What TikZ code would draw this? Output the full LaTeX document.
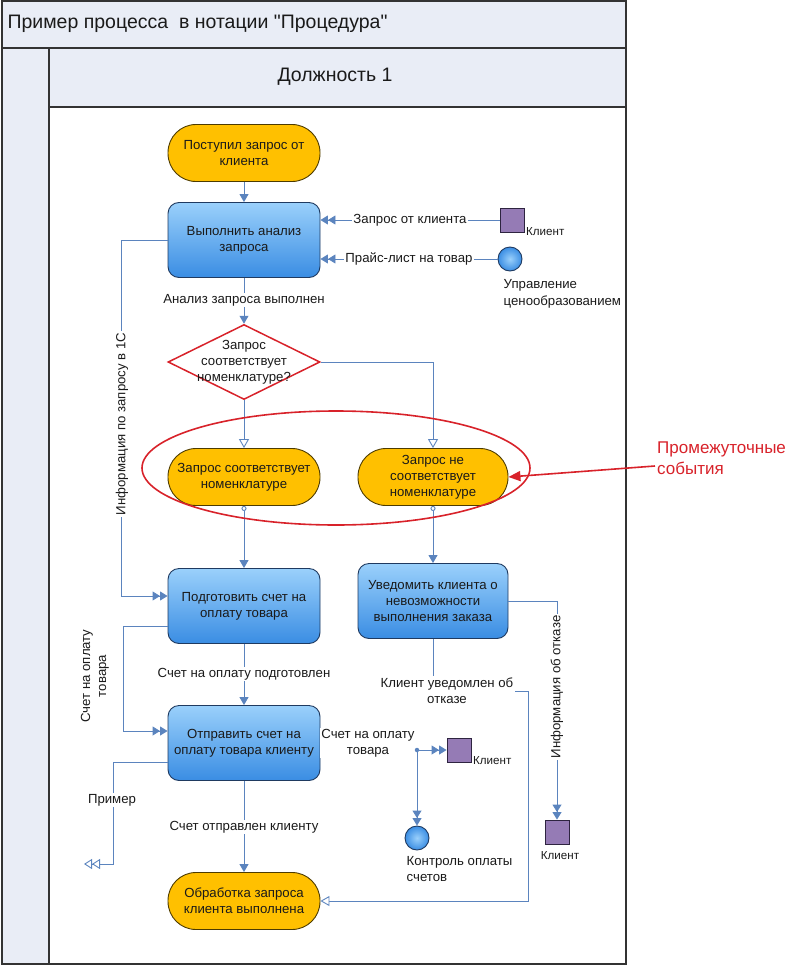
\documentclass[tikz,border=0pt]{standalone}
\usepackage{fontspec}
\setmainfont{Liberation Sans}[Ligatures=TeXOff]
\usetikzlibrary{arrows.meta,shapes.geometric,calc}
\definecolor{lnc}{HTML}{5B84BE}
\definecolor{bandc}{HTML}{E9EDF6}
\definecolor{framec}{HTML}{333333}
\definecolor{boxb}{HTML}{1F3A60}
\definecolor{boxt}{HTML}{9AD0FB}
\definecolor{boxbot}{HTML}{3A8DE3}
\definecolor{evf}{HTML}{FFC000}
\definecolor{evb}{HTML}{4D3B00}
\definecolor{redc}{HTML}{D8222A}
\definecolor{sqf}{HTML}{957BB5}
\definecolor{sqb}{HTML}{2E2440}
\definecolor{txt}{HTML}{1A1A1A}
\begin{document}
\begin{tikzpicture}[x=1pt,y=-1pt,
  lnk/.style={draw=lnc, line width=0.9pt},
  tipf/.style={-{Triangle[length=8pt,width=9pt]}},
  tipff/.style={-{Triangle[length=7.5pt,width=9pt]Triangle[length=7.5pt,width=9pt]}},
  tipo/.style={-{Triangle[open,length=9pt,width=10pt,fill=white]}},
  tipoo/.style={-{Triangle[open,length=8pt,width=10pt,fill=white]Triangle[open,length=8pt,width=10pt,fill=white]}},
  startcirc/.style={{Circle[open,length=5pt,fill=white]}-{Triangle[length=8pt,width=9pt]}},
  lbl/.style={font=\fontsize{13.2}{16}\selectfont, text=txt, align=center, inner sep=1.5pt},
  small/.style={font=\fontsize{11.6}{13}\selectfont, text=txt, inner sep=1pt},
  procbox/.style={draw=boxb, line width=0.9pt, rounded corners=11pt, top color=boxt, bottom color=boxbot,
    minimum width=152pt, minimum height=75pt, align=center, font=\fontsize{13.2}{16}\selectfont, text=txt},
  evbox/.style={draw=evb, line width=0.9pt, rounded corners=28pt, fill=evf,
    minimum width=152pt, minimum height=57pt, align=center, font=\fontsize{13.2}{16}\selectfont, text=txt},
  decbox/.style={diamond, draw=redc, line width=1.5pt, fill=white, inner sep=0pt,
    minimum width=152pt, minimum height=75pt},
  sqr/.style={draw=sqb, line width=0.9pt, fill=sqf, minimum size=24pt, inner sep=0pt},
  circ/.style={circle, draw=boxb, line width=0.9pt, inner color=boxt, outer color=boxbot, minimum size=24pt, inner sep=0pt},
  dotn/.style={circle, fill=lnc, minimum size=4.5pt, inner sep=0pt}
]
\useasboundingbox (0,0) rectangle (796,966);
% swimlane frame
\fill[bandc] (2,1) rectangle (626,107);
\fill[bandc] (2,48) rectangle (49,964);
\draw[framec, line width=1.2pt] (2,1) rectangle (626,964);
\draw[framec, line width=1.2pt] (2,48) -- (626,48) (49,48) -- (49,964) (49,107) -- (626,107);
\node[anchor=west, font=\fontsize{19.5}{22}\selectfont, text=txt] (title) at (4,24) {Пример процесса \ в нотации "Процедура"};
\node[font=\fontsize{19.5}{22}\selectfont, text=txt] (lane) at (335,77) {Должность 1};

% main nodes
\node[evbox] (S) at (244,153) {Поступил запрос от\\клиента};
\node[procbox] (P1) at (244,240) {Выполнить анализ\\запроса};
\node[decbox] (D) at (244,362) {};
\node[lbl] (Dt) at (244,362) {Запрос\\соответствует\\номенклатуре?};
\node[evbox] (E1) at (244,477) {Запрос соответствует\\номенклатуре};
\node[evbox, minimum width=150pt] (E2) at (433,477) {Запрос не\\соответствует\\номенклатуре};
\node[procbox] (P3) at (244,606) {Подготовить счет на\\оплату товара};
\node[procbox, minimum width=150pt] (P4) at (433,601) {Уведомить клиента о\\невозможности\\выполнения заказа};
\node[procbox] (P5) at (244,743) {Отправить счет на\\оплату товара клиенту};
\node[evbox] (E3) at (244,901) {Обработка запроса\\клиента выполнена};

% external objects
\node[sqr] (C1) at (512,220) {};
\node[small, anchor=west] (C1l) at (525,232) {Клиент};
\node[circ] (M1) at (510,259) {};
\node[lbl, anchor=north west, align=left, font=\fontsize{13.2}{17}\selectfont] (M1l) at (502,278) {Управление\\ценообразованием};

% connectors top
\draw[lnk, tipf] (S) -- (P1);
\draw[lnk, tipff] (C1) -- node[lbl, fill=white]{Запрос от клиента} (P1.east |- C1);
\draw[lnk, tipff] (M1) -- node[lbl, fill=white]{Прайс-лист на товар} (P1.east |- M1);
\draw[lnk, tipf] (P1) -- (D.north);
\node[lbl, fill=white] (L1) at (244,300) {Анализ запроса выполнен};
\draw[lnk, tipo] (D.south) -- (E1.north);
\draw[lnk, tipo] (D.east) -| (E2.north);
\draw[lnk, startcirc] (E1.south) -- (P3.north);
\draw[lnk, startcirc] (E2.south) -- (P4.north);

% left loops
\draw[lnk, tipff] (P1.west) -- ++(-46,0) |- ($(P3.west)+(0,-10)$);
\node[lbl, fill=white, rotate=90] (L2) at (122,424) {Информация по запросу в 1С};
\draw[lnk, tipff] ($(P3.west)+(0,20)$) -- (123,626) |- ($(P5.west)+(0,-12)$);
\node[lbl, rotate=90] (L3) at (95,676) {Счет на оплату\\товара};
\draw[lnk, tipf] (P3) -- (P5);
\node[lbl, fill=white] (L4) at (244,674) {Счет на оплату подготовлен};
\draw[lnk, tipf] (P5) -- (E3);
\node[lbl, fill=white] (L5) at (244,827) {Счет отправлен клиенту};
\coordinate (ex) at (84,864);
\draw[lnk, tipoo] ($(P5.west)+(0,19)$) -- (113,762) |- (ex);
\node[lbl, fill=white] (L6) at (112,800) {Пример};

% invoice to client / control
\coordinate (dtc) at (417,750);
\draw[lnk] (P5.east) -- (dtc);
\node[lbl, fill=white] (L7) at (368,743) {Счет на оплату\\товара};
\node[dotn] (dt) at (dtc) {};
\node[sqr] (C2) at (459,750) {};
\node[small, anchor=west] (C2l) at (472,761) {Клиент};
\draw[lnk, tipff] (dt) -- (C2);
\node[circ] (M2) at (417,838) {};
\draw[lnk, tipff] (dt) -- (M2);
\node[lbl, anchor=north west, align=left, font=\fontsize{13.2}{16}\selectfont] (M2l) at (405,855) {Контроль оплаты\\счетов};

% refusal branch
\node[lbl, fill=white] (L8) at (447,691) {Клиент уведомлен об\\отказе};
\draw[lnk] (P4.south) -- (P4.south |- L8.north);
\coordinate (rc) at (528,691);
\draw[lnk, tipo] (L8.east) -- (rc) |- (E3.east);
\node[sqr] (C3) at (557,832) {};
\draw[lnk, tipff] (P4.east) -| (C3.north);
\node[lbl, fill=white, rotate=90] (L9) at (557,687) {Информация об отказе};
\node[small] (C3l) at (560,856) {Клиент};

% red annotation
\draw[redc, line width=1.6pt] (336,468) ellipse [x radius=194, y radius=57];
\node[font=\fontsize{17}{21}\selectfont, text=redc, align=left, anchor=north west, inner sep=1pt] (RL) at (656,441) {Промежуточные\\события};
\coordinate (rs) at (655,466);
\draw[redc, line width=1.6pt, -{Triangle[length=12pt,width=10pt]}] (rs) -- (E2.east);
\end{tikzpicture}
\end{document}
